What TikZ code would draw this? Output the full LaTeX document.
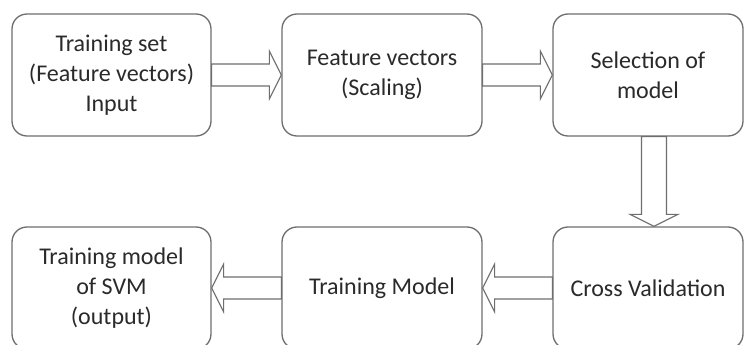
\documentclass[tikz,border=0pt]{standalone}
\usepackage{fontspec}
\setmainfont{Carlito}
\usetikzlibrary{calc}
\definecolor{edge}{HTML}{6E6E6E}
\definecolor{ink}{HTML}{2A2A2A}
\begin{document}
\begin{tikzpicture}[x=1pt,y=-1pt,
  stage/.style={draw=edge, line width=1.3pt, rounded corners=15pt, fill=white,
    minimum height=122pt, align=center, inner sep=0pt, text=ink,
    font=\fontsize{24}{30}\selectfont},
  blockarrow/.style={draw=edge, line width=1.1pt, fill=white, line join=miter}]
\useasboundingbox (0,0) rectangle (745,345);
\begin{scope}
\clip (0,0) rectangle (745,345);
% top row
\node[stage, minimum width=199pt] (input)  at (111.5,75) {Training set\\(Feature vectors)\\Input};
\node[stage, minimum width=200pt] (scale)  at (382,75)   {Feature vectors\\(Scaling)};
\node[stage, minimum width=190pt] (select) at (648,75)   {Selection of\\model};
% bottom row
\node[stage, minimum width=199pt] (output) at (111.5,288) {Training model\\of SVM\\(output)};
\node[stage, minimum width=200pt] (train)  at (382,288)   {Training Model};
\node[stage, minimum width=190pt] (cross)  at (648,288)   {Cross Validation};

% right-pointing block arrows
\foreach \a/\b in {input/scale, scale/select}{
  \draw[blockarrow] ($(\a.east)+(0,-11)$) -- ($(\b.west)+(-12,-11)$) -- ($(\b.west)+(-12,-24)$)
    -- (\b.west) -- ($(\b.west)+(-12,24)$) -- ($(\b.west)+(-12,11)$) -- ($(\a.east)+(0,11)$) -- cycle;
}
% left-pointing block arrows
\foreach \a/\b in {cross/train, train/output}{
  \draw[blockarrow] ($(\a.west)+(0,-11)$) -- ($(\b.east)+(12,-11)$) -- ($(\b.east)+(12,-24)$)
    -- (\b.east) -- ($(\b.east)+(12,24)$) -- ($(\b.east)+(12,11)$) -- ($(\a.west)+(0,11)$) -- cycle;
}
% downward block arrow
\coordinate (dtop) at ($(select.south)+(6,0)$);
\coordinate (dtip) at ($(cross.north)+(6,0)$);
\draw[blockarrow] ($(dtop)+(-12.5,0)$) -- ($(dtip)+(-12.5,-12)$) -- ($(dtip)+(-24,-12)$)
  -- (dtip) -- ($(dtip)+(24,-12)$) -- ($(dtip)+(12.5,-12)$) -- ($(dtop)+(12.5,0)$) -- cycle;
\end{scope}
\end{tikzpicture}
\end{document}
